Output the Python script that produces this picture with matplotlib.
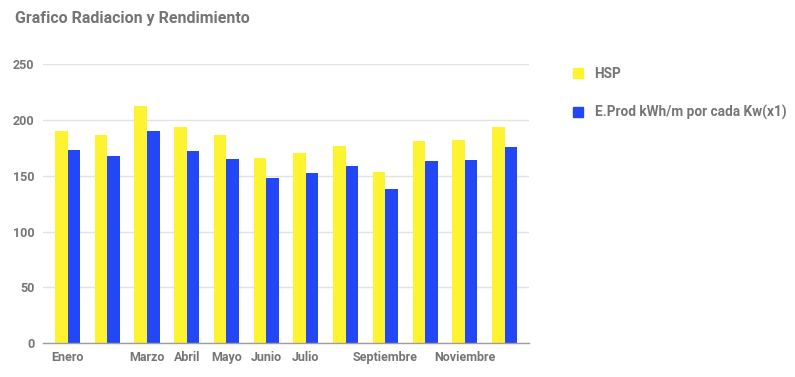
import numpy as np
import matplotlib
matplotlib.use("Agg")
import matplotlib.pyplot as plt
from matplotlib.patches import Patch

plt.rcParams['font.family'] = ['Roboto', 'DejaVu Sans']

# datos
meses = ['Enero', 'Febrero', 'Marzo', 'Abril', 'Mayo', 'Junio',
         'Julio', 'Agosto', 'Septiembre', 'Octubre', 'Noviembre', 'Diciembre']
# etiquetas que se ven en el eje x (las demas se ocultan por solaparse)
meses_visibles = ['Enero', 'Marzo', 'Abril', 'Mayo', 'Junio', 'Julio',
                  'Septiembre', 'Noviembre']
hsp = [190, 187, 213, 194, 186.5, 166, 170, 176.5, 153.5, 181.5, 182, 194]
e_prod = [173, 168, 190, 172, 165, 148, 152.5, 158.5, 138, 163.5, 164.5, 176]

AMARILLO = '#FDF330'
AZUL = '#2447F5'
GRIS = '#757575'

fig = plt.figure(figsize=(7.95, 3.77), dpi=100)
ax = fig.add_axes([0.054, 0.0902, 0.6116, 0.7392])

x = np.arange(len(meses))
w = 0.315
ax.bar(x - w / 2, hsp, width=w, color=AMARILLO, zorder=3)
ax.bar(x + w / 2, e_prod, width=w, color=AZUL, zorder=3)

ax.set_xlim(-0.62, len(meses) - 1 + 0.62)
ax.set_ylim(0, 250)
ax.set_yticks([0, 50, 100, 150, 200, 250])
ax.yaxis.grid(True, color='#e3e3e3', linewidth=1, zorder=0)

ax.set_xticks(x)
ax.set_xticklabels([m if m in meses_visibles else '' for m in meses])
ax.tick_params(axis='both', length=0, labelsize=9, labelcolor=GRIS)
ax.tick_params(axis='x', pad=6)
ax.tick_params(axis='y', pad=6)
for lbl in ax.get_xticklabels() + ax.get_yticklabels():
    lbl.set_fontweight('bold')

for s in ['top', 'right', 'left']:
    ax.spines[s].set_visible(False)
ax.spines['bottom'].set_color('#9e9e9e')
ax.spines['bottom'].set_linewidth(1)
ax.spines['bottom'].set_zorder(4)

fig.text(0.019, 0.97, 'Grafico Radiacion y Rendimiento', fontsize=11.5,
         fontweight='bold', color=GRIS, va='top', ha='left')

handles = [Patch(color=AMARILLO, label='HSP'),
           Patch(color=AZUL, label='E.Prod kWh/m por cada Kw(x1)')]
leg = fig.legend(handles=handles, loc='upper left', bbox_to_anchor=(0.705, 0.855),
                 frameon=False, handlelength=0.75, handleheight=0.75,
                 handletextpad=0.85, labelspacing=1.75, fontsize=9.8)
for t in leg.get_texts():
    t.set_color(GRIS)
    t.set_fontweight('bold')

fig.savefig('out.png', dpi=100)
